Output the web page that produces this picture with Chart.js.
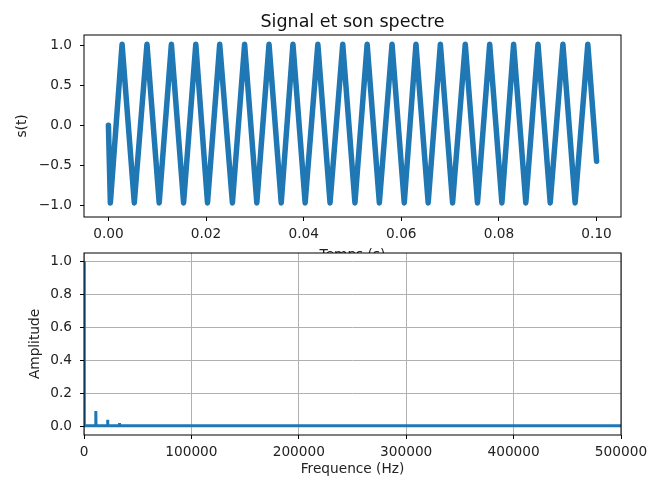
<!DOCTYPE html>
<html>
<head>
<meta charset="utf-8">
<script src="https://cdn.jsdelivr.net/npm/chart.js@4/dist/chart.umd.min.js"></script>
<style>
    body { margin: 0; background: #fff; }
    #wrap { position: relative; width: 664px; height: 481px; }
    #sig { position: absolute; left: 0; top: 0; }
    #spec { position: absolute; left: 0; top: 231px; }
</style>
</head>
<body>
<div id="wrap">
    <canvas id="sig" width="664" height="275"></canvas>
    <canvas id="spec" width="664" height="250"></canvas>
</div>
<script>
// signal: vertices of the triangle wave
const sigTime = [0, 0.0004, 0.0028, 0.0053, 0.0079, 0.0104, 0.0129, 0.0154, 0.0179, 0.0203,
    0.0228, 0.0254, 0.0279, 0.0304, 0.0329, 0.0354, 0.0378, 0.0403, 0.0429, 0.0454,
    0.0480, 0.0505, 0.0530, 0.0555, 0.0581, 0.0606, 0.0630, 0.0655, 0.0680, 0.0705,
    0.0731, 0.0756, 0.0781, 0.0806, 0.0830, 0.0855, 0.0880, 0.0905, 0.0931, 0.0956,
    0.0982, 0.1000];
const sigValue = [0, -0.97, 1.01, -0.97, 1.01, -0.97, 1.01, -0.97, 1.01, -0.97,
    1.01, -0.97, 1.01, -0.97, 1.01, -0.97, 1.01, -0.97, 1.01, -0.97,
    1.01, -0.97, 1.01, -0.97, 1.01, -0.97, 1.01, -0.97, 1.01, -0.97,
    1.01, -0.97, 1.01, -0.97, 1.01, -0.97, 1.01, -0.97, 1.01, -0.97,
    1.01, -0.45];

// spectrum: spikes on a flat baseline
const specFreq = [0, 200, 400, 10800, 11000, 11200, 21800, 22000, 22200,
    32800, 33000, 33200, 43800, 44000, 44200, 500000];
const specAmp = [1.0, 0.006, 0.006, 0.006, 0.095, 0.006, 0.006, 0.042, 0.006,
    0.006, 0.022, 0.006, 0.006, 0.01, 0.006, 0.006];

const sigXTicks = [0, 0.02, 0.04, 0.06, 0.08, 0.10];
const sigYTicks = [-1, -0.5, 0, 0.5, 1];
const specXTicks = [0, 100000, 200000, 300000, 400000, 500000];
const specYTicks = [0, 0.2, 0.4, 0.6, 0.8, 1.0];

const blue = '#1f77b4';
const ink = '#222';
const fnt = { family: 'DejaVu Sans', size: 13.7 };

function toPoints(xs, ys) {
    return xs.map((x, i) => ({ x: x, y: ys[i] }));
}

function fixTicks(vals) {
    return function (scale) {
        scale.ticks = vals.map(v => ({ value: v }));
    };
}

function minus(s) {
    return s.replace('-', '\u2212');
}

const framePlugin = {
    id: 'frame',
    beforeDraw(chart, args, opts) {
        const a = chart.chartArea;
        const ctx = chart.ctx;
        if (opts.fill) {
            ctx.save();
            ctx.fillStyle = '#fff';
            ctx.fillRect(a.left, a.top, a.right - a.left, a.bottom - a.top);
            ctx.restore();
        }
    },
    afterDraw(chart) {
        const a = chart.chartArea;
        const ctx = chart.ctx;
        ctx.save();
        ctx.strokeStyle = '#000';
        ctx.lineWidth = 1;
        ctx.strokeRect(a.left, a.top, a.right - a.left, a.bottom - a.top);
        ctx.restore();
    }
};

Chart.defaults.font.family = 'DejaVu Sans';
Chart.defaults.color = ink;

new Chart(document.getElementById('sig'), {
    type: 'line',
    data: {
        datasets: [{
            data: toPoints(sigTime, sigValue),
            borderColor: blue,
            borderWidth: 5.5,
            borderJoinStyle: 'round',
            borderCapStyle: 'round',
            pointRadius: 0,
            tension: 0,
            fill: false
        }]
    },
    options: {
        responsive: false,
        animation: false,
        layout: { padding: { left: 0, right: 43, top: 0, bottom: 0 } },
        plugins: {
            legend: { display: false },
            tooltip: { enabled: false },
            frame: { fill: false },
            title: {
                display: true,
                text: 'Signal et son spectre',
                fullSize: false,
                color: '#111',
                font: { family: 'DejaVu Sans', size: 17.5, weight: 'normal', lineHeight: 1.2 },
                padding: { top: 12, bottom: 2 }
            }
        },
        scales: {
            x: {
                type: 'linear',
                min: -0.005,
                max: 0.105,
                afterBuildTicks: fixTicks(sigXTicks),
                afterFit: s => { s.height = 58; },
                grid: { display: true, drawOnChartArea: false, drawTicks: true, tickLength: 4, tickColor: '#000' },
                border: { display: false },
                ticks: { font: fnt, color: ink, padding: 5, maxRotation: 0, callback: v => v.toFixed(2) },
                title: { display: true, text: 'Temps (s)', font: fnt, color: ink, padding: { top: 0, bottom: 11 } }
            },
            y: {
                type: 'linear',
                min: -1.146,
                max: 1.125,
                afterBuildTicks: fixTicks(sigYTicks),
                afterFit: s => { s.width = 84; },
                grid: { display: true, drawOnChartArea: false, drawTicks: true, tickLength: 4, tickColor: '#000' },
                border: { display: false },
                ticks: { font: fnt, color: ink, padding: 8, callback: v => minus(v.toFixed(1)) },
                title: { display: true, text: 's(t)', font: fnt, color: ink, padding: { top: 14, bottom: 0 } }
            }
        }
    },
    plugins: [framePlugin]
});

new Chart(document.getElementById('spec'), {
    type: 'line',
    data: {
        datasets: [{
            data: toPoints(specFreq, specAmp),
            borderColor: blue,
            borderWidth: 3,
            borderJoinStyle: 'miter',
            pointRadius: 0,
            tension: 0,
            fill: false,
            clip: 0
        }]
    },
    options: {
        responsive: false,
        animation: false,
        layout: { padding: { left: 0, right: 43, top: 22, bottom: 0 } },
        plugins: {
            legend: { display: false },
            tooltip: { enabled: false },
            frame: { fill: true }
        },
        scales: {
            x: {
                type: 'linear',
                min: 0,
                max: 500000,
                afterBuildTicks: fixTicks(specXTicks),
                afterFit: s => { s.height = 46; },
                grid: { display: true, color: '#b0b0b0', lineWidth: 1, drawTicks: true, tickLength: 4, tickColor: '#000' },
                border: { display: false },
                ticks: { font: fnt, color: ink, padding: 5, maxRotation: 0, callback: v => String(v) },
                title: { display: true, text: 'Frequence (Hz)', font: fnt, color: ink, padding: { top: 0, bottom: 3 } }
            },
            y: {
                type: 'linear',
                min: -0.05,
                max: 1.05,
                afterBuildTicks: fixTicks(specYTicks),
                afterFit: s => { s.width = 84; },
                grid: { display: true, color: '#b0b0b0', lineWidth: 1, drawTicks: true, tickLength: 4, tickColor: '#000' },
                border: { display: false },
                ticks: { font: fnt, color: ink, padding: 8, callback: v => v.toFixed(1) },
                title: { display: true, text: 'Amplitude', font: fnt, color: ink, padding: { top: 27, bottom: 0 } }
            }
        }
    },
    plugins: [framePlugin]
});
</script>
</body>
</html>
